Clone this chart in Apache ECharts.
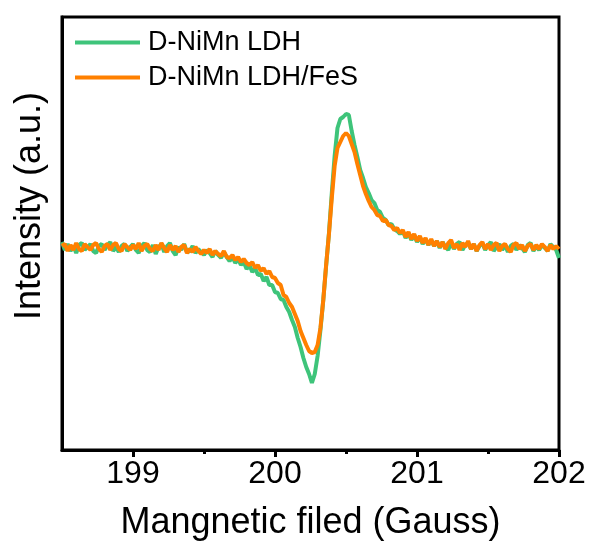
<!DOCTYPE html>
<html>
<head>
<meta charset="utf-8">
<script src="https://cdn.jsdelivr.net/npm/echarts@6/dist/echarts.min.js"></script>
<style>html,body{margin:0;padding:0;background:#fff}#c{width:596px;height:552px}</style>
</head>
<body>
<div id="c"></div>
<script>
const fields = [
198.50,198.52,198.54,198.56,198.58,198.60,198.62,198.64,198.66,198.68,
198.70,198.72,198.74,198.76,198.78,198.80,198.82,198.84,198.86,198.88,
198.90,198.92,198.94,198.96,198.98,199.00,199.02,199.04,199.06,199.08,
199.10,199.12,199.14,199.16,199.18,199.20,199.22,199.24,199.26,199.28,
199.30,199.32,199.34,199.36,199.38,199.40,199.42,199.44,199.46,199.48,
199.50,199.52,199.54,199.56,199.58,199.60,199.62,199.64,199.66,199.68,
199.70,199.72,199.74,199.76,199.78,199.80,199.82,199.84,199.86,199.88,
199.90,199.92,199.94,199.96,199.98,200.00,200.02,200.04,200.06,200.08,
200.10,200.12,200.14,200.16,200.18,200.20,200.22,200.24,200.26,200.28,
200.30,200.32,200.34,200.36,200.38,200.40,200.42,200.44,200.46,200.48,
200.50,200.52,200.54,200.56,200.58,200.60,200.62,200.64,200.66,200.68,
200.70,200.72,200.74,200.76,200.78,200.80,200.82,200.84,200.86,200.88,
200.90,200.92,200.94,200.96,200.98,201.00,201.02,201.04,201.06,201.08,
201.10,201.12,201.14,201.16,201.18,201.20,201.22,201.24,201.26,201.28,
201.30,201.32,201.34,201.36,201.38,201.40,201.42,201.44,201.46,201.48,
201.50,201.52,201.54,201.56,201.58,201.60,201.62,201.64,201.66,201.68,
201.70,201.72,201.74,201.76,201.78,201.80,201.82,201.84,201.86,201.88,
201.90,201.92,201.94,201.96,201.98,202.00
];

const intensityLDH = [
6,-2,4,-3,2,-5,3,5,-2,1,
4,-3,-5,2,4,-2,3,6,-3,1,
-4,2,4,-3,1,4,-2,-5,2,5,
-2,-4,3,-6,1,4,-4,2,5,-3,
-7,1,-2,4,-4,-3,2,-5,-1,-4,
-7,-2,-5,-9,-3,-7,-10,-4,-9,-13,
-9,-15,-11,-17,-14,-21,-17,-24,-20,-27,
-26,-33,-29,-37,-37,-44,-45,-51,-52,-59,
-64,-72,-79,-90,-99,-110,-119,-126,-135,-126,
-108,-82,-52,-18,15,55,92,120,129,131,
134,133,117,103,91,78,70,61,55,48,
45,38,36,30,28,23,24,19,17,14,
17,10,15,8,13,6,11,4,9,3,
8,2,7,0,6,1,-2,5,-1,4,
6,-2,3,5,-1,4,-3,2,5,-2,
3,6,-3,1,4,-2,3,-4,2,4,
-2,3,0,-4,3,5,-3,2,-2,3,
0,-3,4,1,-2,-10
];

const intensityFeS = [
2,4,-3,3,-2,5,-1,-3,4,1,
-2,3,5,-1,-4,2,4,-2,3,5,
-1,-3,4,1,-2,3,-1,5,-3,2,
4,-1,-3,3,-2,5,0,-4,3,-2,
2,-4,1,3,-5,-1,-4,1,-3,-6,
-2,-5,-1,-7,-3,-6,-8,-3,-9,-10,
-7,-12,-9,-14,-11,-15,-17,-14,-20,-17,
-23,-20,-26,-23,-29,-30,-35,-37,-47,-49,
-55,-59,-66,-73,-83,-90,-97,-103,-105,-104,
-97,-80,-52,-17,14,50,82,100,106,112,
115,112,104,96,84,73,62,54,47,41,
38,33,32,27,28,23,22,18,20,15,
18,11,16,9,14,7,12,5,10,3,
9,2,7,1,6,-1,5,8,0,4,
-2,5,1,7,-1,4,-3,3,6,-1,
4,-2,3,5,-3,2,4,-1,-4,3,
5,-1,3,-3,2,4,-2,3,-1,4,
1,-3,3,-1,2,-1
];

const seriesNames = ['D-NiMn LDH', 'D-NiMn LDH/FeS'];
const majorTicks = [199, 200, 201, 202];
const minorTicks = [199.5, 200.5, 201.5];
const xTitle = 'Mangnetic filed (Gauss)';
const yTitle = 'Intensity (a.u.)';

const FONT = '"Liberation Sans", Arial, sans-serif';
const chart = echarts.init(document.getElementById('c'), null, {renderer: 'canvas'});

function zip(xs, ys) { return xs.map((x, i) => [x, ys[i]]); }

chart.setOption({
  animation: false,
  backgroundColor: '#fff',
  grid: {left: 62, right: 37, top: 17, bottom: 102, show: true, borderColor: '#000', borderWidth: 3, backgroundColor: 'transparent'},
  legend: {
    orient: 'vertical', left: 70, top: 24, itemWidth: 65, itemHeight: 4, itemGap: 8,
    icon: 'rect',
    textStyle: {fontFamily: FONT, fontSize: 27, color: '#000', padding: [0, 0, 0, 3]},
    data: seriesNames
  },
  xAxis: [{
    type: 'value', min: 198.5, max: 202, interval: 0.5, position: 'bottom',
    splitLine: {show: false},
    axisLine: {show: true, onZero: false, lineStyle: {color: '#000', width: 3}},
    axisTick: {show: true, customValues: majorTicks, length: 7, lineStyle: {color: '#000', width: 3}},
    axisLabel: {customValues: majorTicks, fontFamily: FONT, fontSize: 32, color: '#000', margin: 8},
    name: xTitle, nameLocation: 'middle', nameGap: 55,
    nameTextStyle: {fontFamily: FONT, fontSize: 36, color: '#000'}
  }, {
    type: 'value', min: 198.5, max: 202, interval: 0.5, position: 'bottom',
    splitLine: {show: false},
    axisLine: {show: false, onZero: false},
    axisTick: {show: true, customValues: minorTicks, length: 4, lineStyle: {color: '#000', width: 3}},
    axisLabel: {show: false}
  }],
  yAxis: {
    type: 'value', min: -202, max: 231,
    splitLine: {show: false},
    axisLine: {show: true, onZero: false, lineStyle: {color: '#000', width: 3}},
    axisTick: {show: false}, axisLabel: {show: false}
  },
  graphic: [{
    type: 'text', rotation: Math.PI / 2,
    x: 30, y: 206,
    style: {text: yTitle, font: '36px ' + FONT, fill: '#000', align: 'center', verticalAlign: 'middle'}
  }],
  series: [{
    name: seriesNames[0], type: 'line', showSymbol: false, symbol: 'none',
    data: zip(fields, intensityLDH), color: '#3EC47A',
    lineStyle: {width: 4, color: '#3EC47A'}
  }, {
    name: seriesNames[1], type: 'line', showSymbol: false, symbol: 'none',
    data: zip(fields, intensityFeS), color: '#FF8000',
    lineStyle: {width: 4, color: '#FF8000'}
  }]
});
</script>
</body>
</html>
